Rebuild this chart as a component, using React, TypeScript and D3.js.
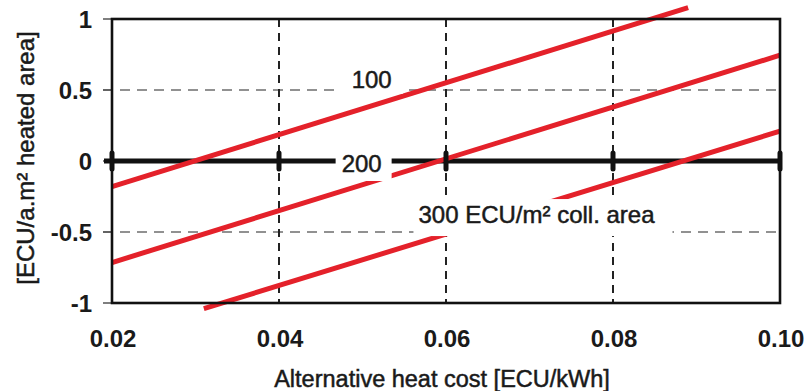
import React from "react";
import * as d3 from "d3";

// heat cost axis [ECU/kWh]
const xTicks = [0.02, 0.04, 0.06, 0.08, 0.1];
const xTickLabels = ["0.02", "0.04", "0.06", "0.08", "0.10"];
const yTicks = [-1, -0.5, 0, 0.5, 1];
const yTickLabels = ["-1", "-0.5", "0", "0.5", "1"];

// collector cost lines, endpoints
const collectorCosts = ["100", "200", "300 ECU/m² coll. area"];
const lineCost = [
  [0.02, 0.089],
  [0.02, 0.1],
  [0.031, 0.1],
];
const lineSaving = [
  [-0.18, 1.08],
  [-0.715, 0.745],
  [-1.04, 0.21],
];

const W = 809;
const H = 391;
const FONT = "'Liberation Sans', Arial, sans-serif";
const RED = "#e4212a";
const INK = "#1a1a1a";

const App = () => {
  const x = d3.scaleLinear().domain([0.02, 0.1]).range([112, 780]);
  const y = d3.scaleLinear().domain([-1, 1]).range([303, 19]);

  const line = d3
    .line<[number, number]>()
    .x((d) => x(d[0]))
    .y((d) => y(d[1]));

  // label anchors (data coords) and white knock-out boxes around them
  const labelPos = [
    { cx: 0.0487, cy: 0.514, box: [-17, -20, 51, 6] },
    { cx: 0.0475, cy: -0.0775, box: [-6, -24, 50, 9] },
    { cx: 0.0567, cy: -0.437, box: [-5, -24, 254, 13] },
  ];

  const [x0, x1] = x.range();
  const [yb, yt] = y.range();

  return (
    <svg
      width={W}
      height={H}
      style={{ position: "absolute", left: 0, top: 0, background: "#fff" }}
    >
      {/* horizontal grid */}
      {[0.5, -0.5].map((v) => (
        <line
          key={"h" + v}
          x1={x0 - 9}
          x2={x1}
          y1={y(v)}
          y2={y(v)}
          stroke="#6e6e6e"
          strokeWidth={1.6}
          strokeDasharray="10 7"
        />
      ))}
      {/* vertical grid */}
      {xTicks.slice(1, -1).map((v) => (
        <line
          key={"v" + v}
          x1={x(v)}
          x2={x(v)}
          y1={yt}
          y2={yb}
          stroke="#222"
          strokeWidth={2}
          strokeDasharray="8 6"
        />
      ))}
      {/* left ticks */}
      {yTicks.map((v) => (
        <line
          key={"yt" + v}
          x1={x0 - 9}
          x2={x0}
          y1={y(v)}
          y2={y(v)}
          stroke="#555"
          strokeWidth={1.5}
        />
      ))}
      {/* zero line */}
      <line
        x1={x0 - 8}
        x2={x1}
        y1={y(0)}
        y2={y(0)}
        stroke="#111"
        strokeWidth={5}
      />
      {/* cost lines */}
      {collectorCosts.map((c, i) => (
        <path
          key={"l" + c}
          d={
            line(
              lineCost[i].map((v, j) => [v, lineSaving[i][j]] as [number, number])
            ) || ""
          }
          fill="none"
          stroke={RED}
          strokeWidth={5}
        />
      ))}
      {/* tick bars on zero line */}
      {xTicks.map((v) => (
        <line
          key={"zt" + v}
          x1={x(v)}
          x2={x(v)}
          y1={y(0) - 8}
          y2={y(0) + 8}
          stroke="#111"
          strokeWidth={5}
          strokeLinecap="round"
        />
      ))}
      {/* labels with knock-out */}
      {collectorCosts.map((c, i) => {
        const p = labelPos[i];
        const ax = x(p.cx);
        const ay = y(p.cy);
        return (
          <g key={"lab" + c}>
            <rect
              x={ax + p.box[0]}
              y={ay + p.box[1]}
              width={p.box[2] - p.box[0]}
              height={p.box[3] - p.box[1]}
              fill="#fff"
            />
            <text
              x={ax}
              y={ay}
              fontFamily={FONT}
              fontSize={24}
              fill={INK}
              stroke={INK}
              strokeWidth={0.5}
            >
              {c}
            </text>
          </g>
        );
      })}
      {/* frame */}
      <rect
        x={x0}
        y={yt}
        width={x1 - x0}
        height={yb - yt}
        fill="none"
        stroke="#111"
        strokeWidth={2.6}
      />
      {/* y tick labels */}
      {yTicks.map((v, i) => (
        <text
          key={"yl" + v}
          x={92}
          y={y(v) + 8.5}
          textAnchor="end"
          fontFamily={FONT}
          fontSize={24}
          fontWeight="bold"
          fill={INK}
        >
          {yTickLabels[i]}
        </text>
      ))}
      {/* x tick labels */}
      {xTicks.map((v, i) => (
        <text
          key={"xl" + v}
          x={x(v) + 1}
          y={347}
          textAnchor="middle"
          fontFamily={FONT}
          fontSize={24}
          fontWeight="bold"
          fill={INK}
        >
          {xTickLabels[i]}
        </text>
      ))}
      {/* axis titles */}
      <text
        x={442}
        y={387}
        textAnchor="middle"
        fontFamily={FONT}
        fontSize={23.5}
        fill={INK}
        stroke={INK}
        strokeWidth={0.5}
      >
        Alternative heat cost [ECU/kWh]
      </text>
      <text
        transform={`translate(34,${158}) rotate(-90)`}
        textAnchor="middle"
        fontFamily={FONT}
        fontSize={24}
        fill={INK}
        stroke={INK}
        strokeWidth={0.5}
      >
        [ECU/a.m² heated area]
      </text>
    </svg>
  );
};

export default App;
